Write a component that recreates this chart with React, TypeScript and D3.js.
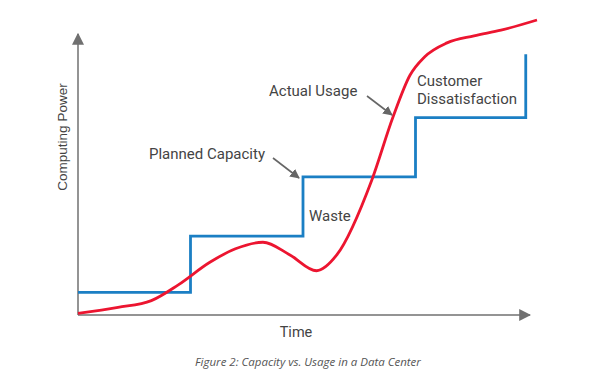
import React from 'react';
import * as d3 from 'd3';

// capacity steps (time, level) – step happens at each time
const capacityTime = [0, 25, 50, 75, 99.5];
const capacityLevel = [8, 28, 49, 70, 92.5];

// actual usage curve
const usageTime = [0, 8.9, 16.3, 22.2, 29.3, 35, 41.1, 47.1, 53, 57.5, 65.3, 70, 73.8, 77, 82, 88, 94, 102];
const usageLevel = [0.6, 2.7, 5.1, 10.6, 18.7, 23.5, 25.8, 21.3, 15.7, 21.3, 47.9, 70.2, 85.1, 91.5, 96.5, 99, 101, 104.6];

const WIDTH = 597;
const HEIGHT = 386;
const FONT = 'Roboto, sans-serif';
const TEXT_COLOR = '#444';

const App: React.FC = () => {
    const xScale = d3.scaleLinear().domain([0, 100]).range([78, 528]);
    const yScale = d3.scaleLinear().domain([0, 100]).range([315, 33]);

    const capacity = capacityTime.map((t, i) => [t, capacityLevel[i]] as [number, number]);
    const usage = usageTime.map((t, i) => [t, usageLevel[i]] as [number, number]);

    const stepLine = d3.line<[number, number]>()
        .x(d => xScale(d[0]))
        .y(d => yScale(d[1]))
        .curve(d3.curveStepAfter);

    const usageLine = d3.line<[number, number]>()
        .x(d => xScale(d[0]))
        .y(d => yScale(d[1]))
        .curve(d3.curveMonotoneX);

    const x0 = xScale(0);
    const y0 = yScale(0);

    return (
        <svg width={WIDTH} height={HEIGHT} style={{ position: 'absolute', left: 0, top: 0, background: '#fff' }}>
            <defs>
                <marker id="axisHead" viewBox="0 0 10 10" refX="9" refY="5" markerWidth="8" markerHeight="8" orient="auto">
                    <path d="M0,0 L10,5 L0,10 z" fill="#707070" />
                </marker>
                <marker id="noteHead" viewBox="0 0 10 10" refX="9" refY="5" markerWidth="6" markerHeight="6" orient="auto">
                    <path d="M0,0 L10,5 L0,10 z" fill="#666" />
                </marker>
            </defs>

            {/* axes */}
            <line x1={x0} y1={y0} x2={x0} y2={yScale(100) + 1} stroke="#707070" strokeWidth={1.5} markerEnd="url(#axisHead)" />
            <line x1={x0} y1={y0} x2={xScale(100) + 2} y2={y0} stroke="#707070" strokeWidth={1.5} markerEnd="url(#axisHead)" />

            <path d={stepLine(capacity) ?? ''} fill="none" stroke="#1b7fc4" strokeWidth={2.8} />
            <path d={usageLine(usage) ?? ''} fill="none" stroke="#ec1530" strokeWidth={2.8} />

            {/* axis titles */}
            <text transform="translate(67,137) rotate(-90)" textAnchor="middle" fontFamily="'Liberation Sans', Arial, sans-serif" fontSize={13.5} fill={TEXT_COLOR}>Computing Power</text>
            <text x={296} y={337} textAnchor="middle" fontFamily={FONT} fontSize={14.5} fill={TEXT_COLOR}>Time</text>

            {/* annotations */}
            <text x={149} y={159} fontFamily={FONT} fontSize={15} fill={TEXT_COLOR}>Planned Capacity</text>
            <line x1={273} y1={158} x2={299} y2={178} stroke="#666" strokeWidth={1.6} markerEnd="url(#noteHead)" />

            <text x={269} y={96} fontFamily={FONT} fontSize={15} fill={TEXT_COLOR}>Actual Usage</text>
            <line x1={367} y1={96} x2={392} y2={115} stroke="#666" strokeWidth={1.6} markerEnd="url(#noteHead)" />

            <text x={417} y={86} fontFamily={FONT} fontSize={15} fill={TEXT_COLOR}>Customer</text>
            <text x={417} y={104} fontFamily={FONT} fontSize={15} fill={TEXT_COLOR}>Dissatisfaction</text>

            <text x={309} y={221} fontFamily={FONT} fontSize={15} fill={TEXT_COLOR}>Waste</text>

            <text x={308} y={366} textAnchor="middle" fontFamily="'Open Sans', sans-serif" fontSize={11.5} fontStyle="italic" fill="#555">Figure 2: Capacity vs. Usage in a Data Center</text>
        </svg>
    );
};

export default App;
